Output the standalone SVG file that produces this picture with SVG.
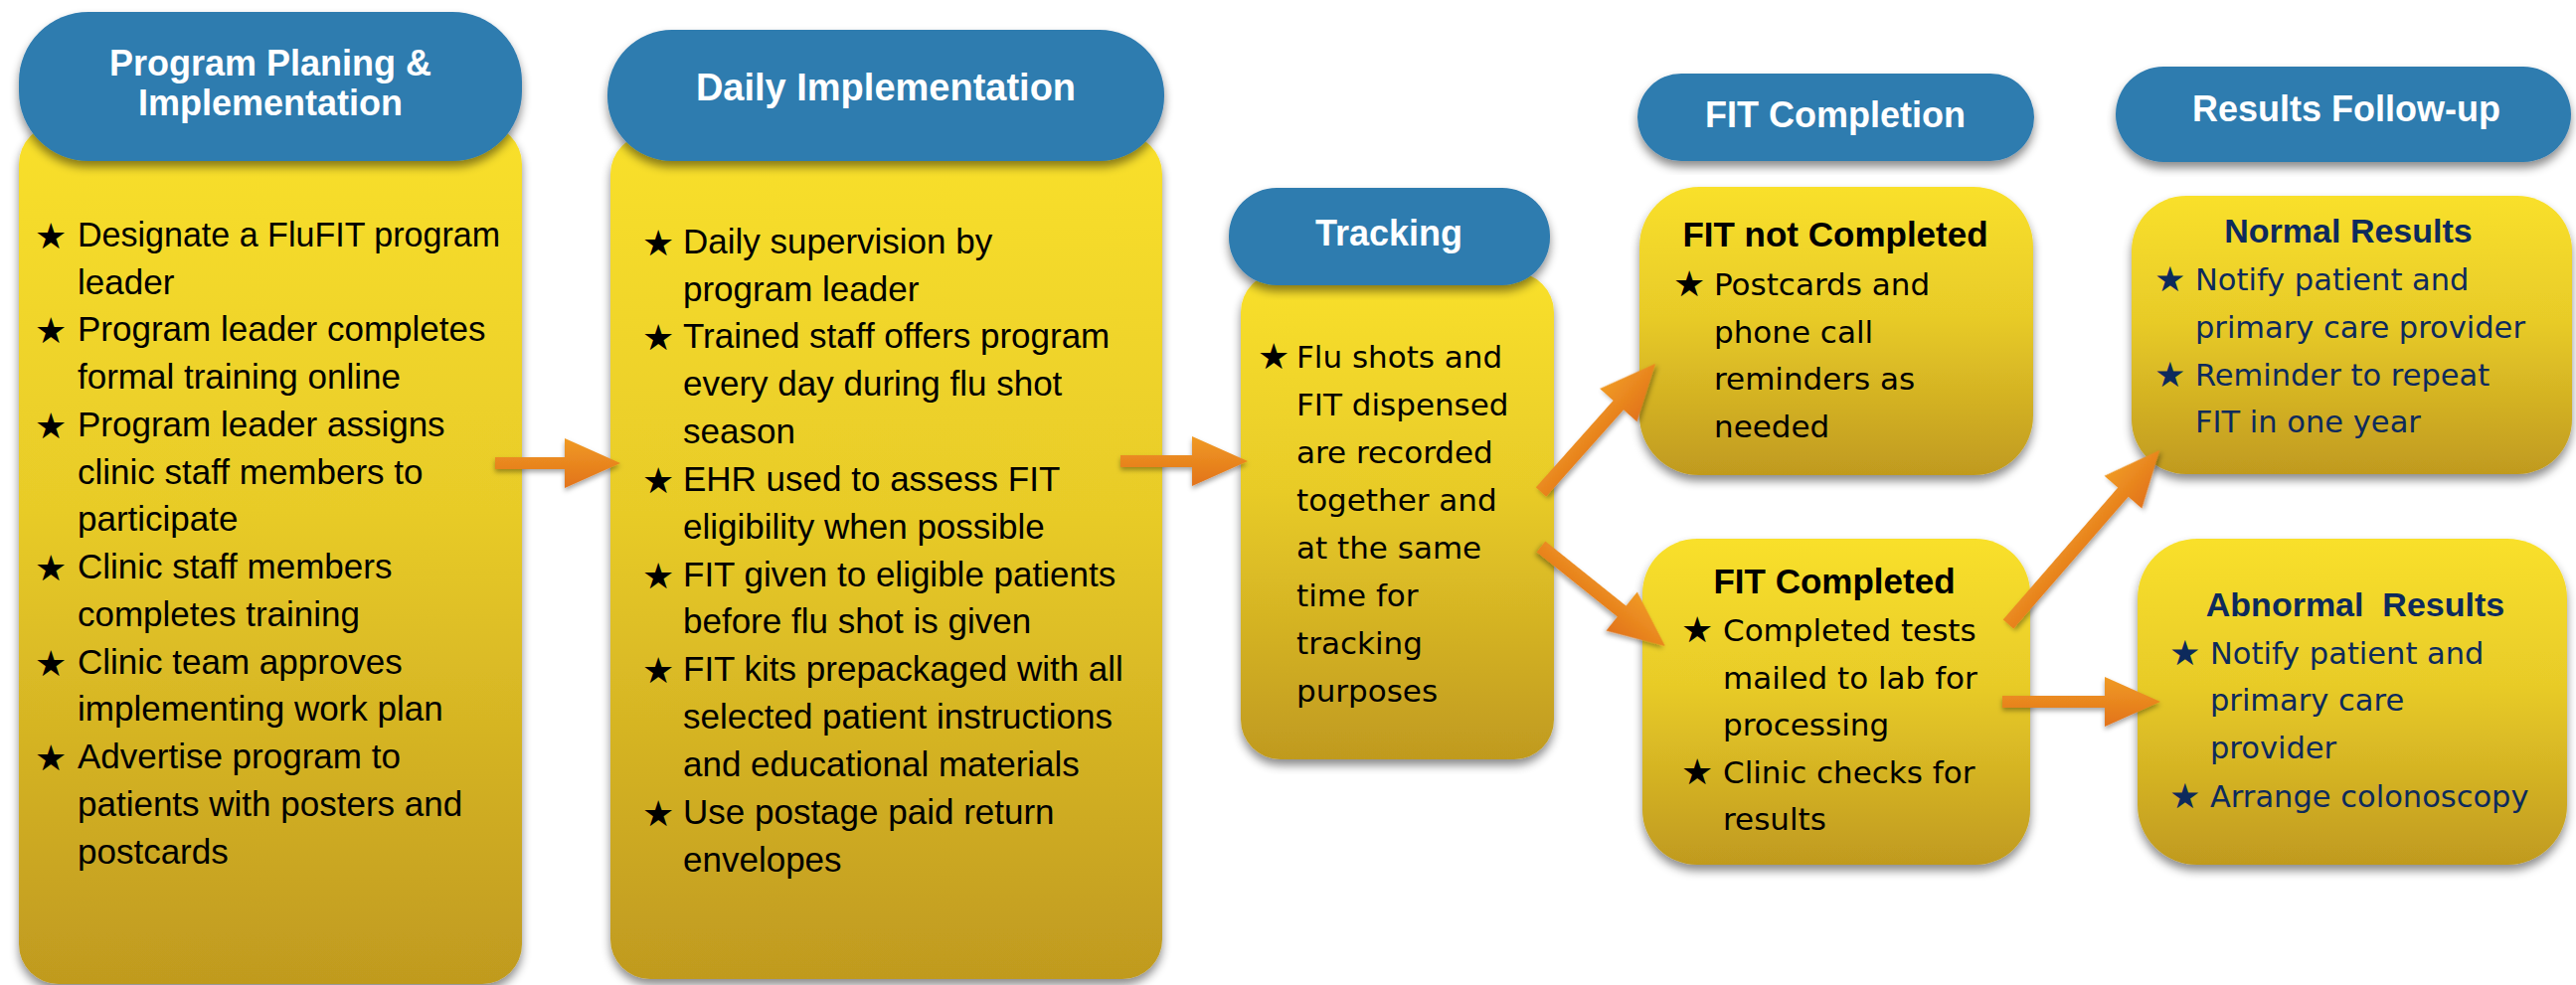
<svg xmlns="http://www.w3.org/2000/svg" width="2591" height="991" viewBox="0 0 2591 991">
<defs>
<linearGradient id="yel" x1="0" y1="0" x2="0" y2="1">
<stop offset="0" stop-color="#F9E02C"/>
<stop offset="0.45" stop-color="#E8CB28"/>
<stop offset="1" stop-color="#C09A1F"/>
</linearGradient>
<linearGradient id="org" x1="0" y1="0" x2="0" y2="1">
<stop offset="0" stop-color="#F09A24"/>
<stop offset="1" stop-color="#E2731A"/>
</linearGradient>
<filter id="sh" x="-10%" y="-10%" width="120%" height="125%">
<feDropShadow dx="0" dy="6" stdDeviation="5" flood-color="#000" flood-opacity="0.45"/>
</filter>
<filter id="ash" x="-20%" y="-40%" width="140%" height="180%">
<feDropShadow dx="0" dy="3" stdDeviation="2.5" flood-color="#000" flood-opacity="0.35"/>
</filter>
</defs>
<style>
.hdr{fill:#2F7BAF;filter:url(#sh)}
.body{fill:url(#yel);filter:url(#sh)}
.ht{font-family:"Liberation Sans",Arial,sans-serif;font-weight:bold;font-size:36px;fill:#fff;text-anchor:middle}
.t1{font-family:"Liberation Sans",Arial,sans-serif;font-size:35px;fill:#000}
.t2{font-family:"DejaVu Sans",Verdana,sans-serif;font-size:31px;fill:#000}
.t2n{font-family:"DejaVu Sans",Verdana,sans-serif;font-size:30.5px;fill:#0D2A5C}
.st{font-family:"DejaVu Sans",sans-serif;font-size:36px;fill:#000}
.stn{font-family:"DejaVu Sans",sans-serif;font-size:35px;fill:#0D2A5C}
.sub{font-family:"Liberation Sans",Arial,sans-serif;font-weight:bold;font-size:35px;fill:#000;text-anchor:middle}
.subn{font-family:"Liberation Sans",Arial,sans-serif;font-weight:bold;font-size:34px;fill:#0D2A5C;text-anchor:middle}
.arr{fill:url(#org);filter:url(#ash)}
</style>
<rect width="2591" height="991" fill="#fff"/>

<g id="node-planning">
<rect class="body" x="19" y="125" width="506" height="865" rx="40"/>
<rect class="hdr" x="19" y="12" width="506" height="150" rx="70"/>
<text class="ht" x="272" y="76">Program Planing &amp;</text>
<text class="ht" x="272" y="116">Implementation</text>
<g class="st">
<text x="35" y="250">★</text><text x="35" y="345">★</text><text x="35" y="441">★</text><text x="35" y="584">★</text><text x="35" y="680">★</text><text x="35" y="775">★</text>
</g>
<g class="t1">
<text x="78" y="248" textLength="425" lengthAdjust="spacingAndGlyphs">Designate a FluFIT program</text>
<text x="78" y="296">leader</text>
<text x="78" y="343">Program leader completes</text>
<text x="78" y="391">formal training online</text>
<text x="78" y="439">Program leader assigns</text>
<text x="78" y="487">clinic staff members to</text>
<text x="78" y="534">participate</text>
<text x="78" y="582">Clinic staff members</text>
<text x="78" y="630">completes training</text>
<text x="78" y="678">Clinic team approves</text>
<text x="78" y="725">implementing work plan</text>
<text x="78" y="773">Advertise program to</text>
<text x="78" y="821">patients with posters and</text>
<text x="78" y="869">postcards</text>
</g>
</g>

<g id="node-daily">
<rect class="body" x="614" y="135" width="555" height="850" rx="40"/>
<rect class="hdr" x="611" y="30" width="560" height="132" rx="65"/>
<text class="ht" x="891" y="101" style="font-size:38px">Daily Implementation</text>
<g class="st">
<text x="646" y="257">★</text><text x="646" y="352">★</text><text x="646" y="496">★</text><text x="646" y="592">★</text><text x="646" y="687">★</text><text x="646" y="831">★</text>
</g>
<g class="t1">
<text x="687" y="255">Daily supervision by</text>
<text x="687" y="303">program leader</text>
<text x="687" y="350">Trained staff offers program</text>
<text x="687" y="398">every day during flu shot</text>
<text x="687" y="446">season</text>
<text x="687" y="494">EHR used to assess FIT</text>
<text x="687" y="542">eligibility when possible</text>
<text x="687" y="590">FIT given to eligible patients</text>
<text x="687" y="637">before flu shot is given</text>
<text x="687" y="685">FIT kits prepackaged with all</text>
<text x="687" y="733">selected patient instructions</text>
<text x="687" y="781">and educational materials</text>
<text x="687" y="829">Use postage paid return</text>
<text x="687" y="877">envelopes</text>
</g>
</g>

<g id="node-tracking">
<rect class="body" x="1248" y="274" width="315" height="490" rx="40"/>
<rect class="hdr" x="1236" y="189" width="323" height="98" rx="48"/>
<text class="ht" x="1397" y="247">Tracking</text>
<text class="st" x="1265" y="371">★</text>
<g class="t2">
<text x="1304" y="370">Flu shots and</text>
<text x="1304" y="418">FIT dispensed</text>
<text x="1304" y="466">are recorded</text>
<text x="1304" y="514">together and</text>
<text x="1304" y="562">at the same</text>
<text x="1304" y="610">time for</text>
<text x="1304" y="658">tracking</text>
<text x="1304" y="706">purposes</text>
</g>
</g>

<g id="node-fit-completion">
<rect class="hdr" x="1647" y="74" width="399" height="88" rx="44"/>
<text class="ht" x="1846" y="128">FIT Completion</text>
</g>

<g id="node-fit-not-completed">
<rect class="body" x="1649" y="188" width="396" height="290" rx="60"/>
<text class="sub" x="1846" y="248">FIT not Completed</text>
<text class="st" x="1683" y="298">★</text>
<g class="t2">
<text x="1724" y="297">Postcards and</text>
<text x="1724" y="345">phone call</text>
<text x="1724" y="392">reminders as</text>
<text x="1724" y="440">needed</text>
</g>
</g>

<g id="node-fit-completed">
<rect class="body" x="1652" y="542" width="390" height="328" rx="55"/>
<text class="sub" x="1845" y="597">FIT Completed</text>
<text class="st" x="1691" y="646">★</text>
<text class="st" x="1691" y="789">★</text>
<g class="t2">
<text x="1733" y="645">Completed tests</text>
<text x="1733" y="693">mailed to lab for</text>
<text x="1733" y="740">processing</text>
<text x="1733" y="788">Clinic checks for</text>
<text x="1733" y="835">results</text>
</g>
</g>

<g id="node-results-followup">
<rect class="hdr" x="2128" y="67" width="458" height="96" rx="48"/>
<text class="ht" x="2360" y="122">Results Follow-up</text>
</g>

<g id="node-normal">
<rect class="body" x="2144" y="197" width="443" height="280" rx="55"/>
<text class="subn" x="2362" y="244">Normal Results</text>
<text class="stn" x="2167" y="293">★</text>
<text class="stn" x="2167" y="389">★</text>
<g class="t2n">
<text x="2208" y="292">Notify patient and</text>
<text x="2208" y="340">primary care provider</text>
<text x="2208" y="388">Reminder to repeat</text>
<text x="2208" y="435">FIT in one year</text>
</g>
</g>

<g id="node-abnormal">
<rect class="body" x="2150" y="542" width="432" height="328" rx="60"/>
<text class="subn" x="2369" y="620" xml:space="preserve">Abnormal  Results</text>
<text class="stn" x="2182" y="669">★</text>
<text class="stn" x="2182" y="813">★</text>
<g class="t2n">
<text x="2223" y="668">Notify patient and</text>
<text x="2223" y="715">primary care</text>
<text x="2223" y="763">provider</text>
<text x="2223" y="812">Arrange colonoscopy</text>
</g>
</g>

<g id="connectors">
<polygon class="arr" transform="translate(498,466)" points="0,-6 70,-6 70,-25 126,0 70,25 70,6 0,6"/>
<polygon class="arr" transform="translate(1127,464)" points="0,-6 72,-6 72,-25 128,0 72,25 72,6 0,6"/>
<polygon class="arr" transform="translate(1550,495) rotate(-48.3)" points="0,-7 117,-7 117,-25 173,0 117,25 117,7 0,7"/>
<polygon class="arr" transform="translate(1550,550) rotate(38.7)" points="0,-7 104,-7 104,-25 160,0 104,25 104,7 0,7"/>
<polygon class="arr" transform="translate(2020,628) rotate(-49)" points="0,-7 176,-7 176,-25 232,0 176,25 176,7 0,7"/>
<polygon class="arr" transform="translate(2014,706)" points="0,-6 103,-6 103,-25 159,0 103,25 103,6 0,6"/>
</g>
</svg>
